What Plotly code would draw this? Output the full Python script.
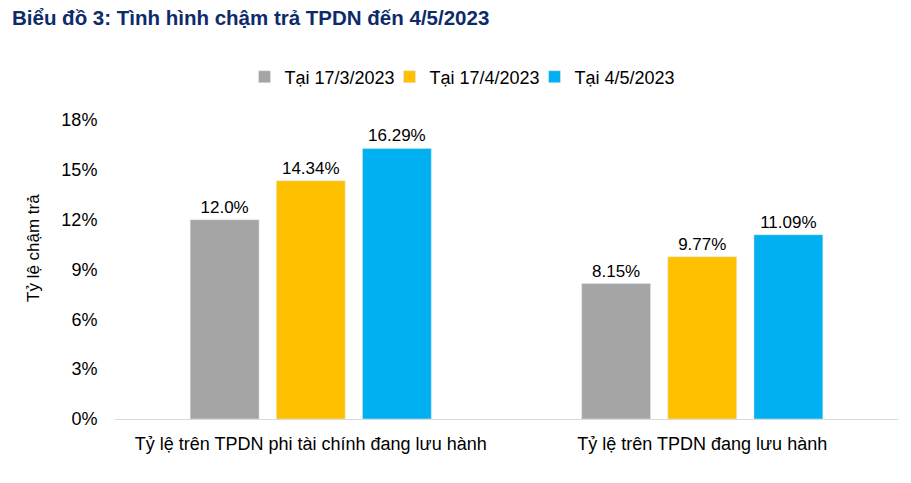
import plotly.graph_objects as go

categories = ["Tỷ lệ trên TPDN phi tài chính đang lưu hành", "Tỷ lệ trên TPDN đang lưu hành"]
series_names = ["Tại 17/3/2023", "Tại 17/4/2023", "Tại 4/5/2023"]
values_mar17 = [12.0, 8.15]
values_apr17 = [14.34, 9.77]
values_may4 = [16.29, 11.09]
labels_mar17 = ["12.0%", "8.15%"]
labels_apr17 = ["14.34%", "9.77%"]
labels_may4 = ["16.29%", "11.09%"]
tick_vals = [0, 3, 6, 9, 12, 15, 18]
tick_text = ["0%", "3%", "6%", "9%", "12%", "15%", "18%"]

colors = ["#A5A5A5", "#FFC000", "#00B0F0"]
FONT = "Liberation Sans, Arial, sans-serif"

fig = go.Figure()
for name, vals, labs, col in zip(series_names,
                                 [values_mar17, values_apr17, values_may4],
                                 [labels_mar17, labels_apr17, labels_may4],
                                 colors):
    fig.add_trace(go.Bar(
        x=categories, y=vals, name=name, marker_color=col,
        text=labs, textposition="outside", cliponaxis=False,
        textfont=dict(family=FONT, size=17, color="#000000"),
    ))

fig.update_layout(
    width=911, height=483,
    margin=dict(l=115, r=13, t=120, b=64),
    paper_bgcolor="white", plot_bgcolor="white",
    barmode="group", bargap=0.34, bargroupgap=0.2,
    font=dict(family=FONT, size=18, color="#000000"),
    title=dict(text="<b>Biểu đồ 3: Tình hình chậm trả TPDN đến 4/5/2023</b>",
               x=12/911, xanchor="left", xref="container",
               y=1-18/483, yanchor="middle", yref="container",
               font=dict(family=FONT, size=20.5, color="#0D2B6B")),
    legend=dict(orientation="h", xref="container", yref="container",
                x=462/911, xanchor="center", y=1-77/483, yanchor="middle",
                font=dict(family=FONT, size=18), itemwidth=30,
                entrywidth=100, traceorder="normal"),
    showlegend=True,
)
fig.update_yaxes(range=[0, 18], tickvals=tick_vals, ticktext=tick_text,
                 showgrid=False, zeroline=False, showline=False,
                 ticks="outside", ticklen=13, tickcolor="rgba(0,0,0,0)",
                 tickfont=dict(family=FONT, size=18))
fig.update_xaxes(showline=True, linecolor="#D9D9D9", linewidth=1,
                 ticks="outside", ticklen=8, tickcolor="rgba(0,0,0,0)",
                 tickfont=dict(family=FONT, size=18))
fig.add_annotation(text="Tỷ lệ chậm trả", textangle=-90, xref="paper", yref="paper",
                   x=(33-115)/783, y=(419-248)/299, xanchor="center", yanchor="middle",
                   showarrow=False, font=dict(family=FONT, size=17))

fig.write_html("out.html", config={"displayModeBar": False},
               post_script="document.body.style.margin='0';document.body.style.padding='0';")
